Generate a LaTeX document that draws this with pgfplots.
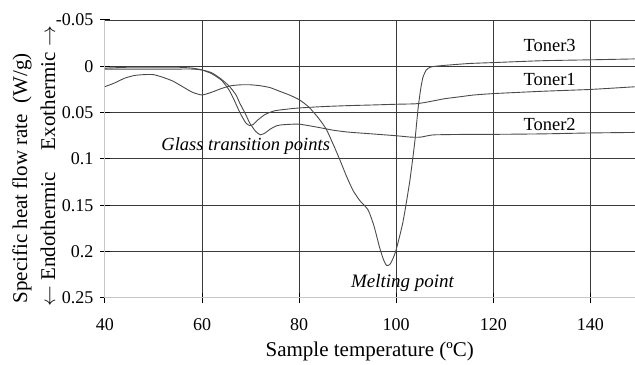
\documentclass[border=0pt]{standalone}
\usepackage{fontspec}
\setmainfont{Liberation Serif}
\usepackage{pgfplots}
\pgfplotsset{compat=1.18}
\definecolor{gridc}{HTML}{3A3A3A}
\definecolor{curvec}{HTML}{4A4A4A}
\begin{document}
\begin{tikzpicture}
\begin{axis}[
  scale only axis, width=530pt, height=278pt,
  xmin=40, xmax=149.1, ymin=-0.05, ymax=0.25, y dir=reverse,
  separate axis lines,
  axis x line=box, axis y line=left,
  axis line style={color=gray!45, line width=0.9pt, -},
  xtick pos=left, ytick pos=left,
  xtick={40,60,80,100,120,140},
  xticklabels={40,60,80,100,120,140},
  ytick={0,0.05,0.1,0.15,0.2,0.25},
  yticklabels={0,0.05,0.1,0.15,0.2,0.25},
  extra y ticks={-0.05}, extra y tick labels={-0.05},
  extra y tick style={grid style={color=gray!45, line width=0.9pt}},
  grid=major, major grid style={gridc, line width=0.9pt},
  tick align=center, major tick length=10pt,
  major tick style={black, line width=1pt},
  ticklabel style={font=\fontsize{18}{20}\selectfont},
  xticklabel style={yshift=-12pt},
  yticklabel style={xshift=-3pt},
  clip=true,
]
\addplot[curvec, line width=0.9pt, smooth, tension=0.35] coordinates {
(40,0.022)(42,0.018)(44,0.013)(46,0.010)(48,0.009)(50,0.009)(52,0.012)(54,0.016)
(56,0.022)(58,0.028)(60,0.031)(62,0.028)(64,0.024)(66,0.021)(68,0.020)(70,0.020)
(72,0.021)(74,0.023)(76,0.027)(78,0.031)(80,0.036)(82,0.044)(84,0.056)(85.6,0.068)
(87,0.084)(88.4,0.101)(89.7,0.118)(91.1,0.134)(92.5,0.145)(94.2,0.155)(95.4,0.172)
(96.6,0.196)(97.4,0.209)(98,0.215)(98.7,0.214)(99.3,0.208)(100,0.198)(101.4,0.168)
(102.8,0.124)(103.8,0.083)(104.5,0.046)(105,0.026)(105.5,0.012)(106.2,0.004)
(107,0.001)(108,0.0)(110,-0.001)(115,-0.003)(120,-0.004)(130,-0.006)(140,-0.007)(149.5,-0.008)
};
\addplot[curvec, line width=0.9pt, smooth, tension=0.35] coordinates {
(40,0.002)(45,0.001)(50,0.001)(55,0.001)(58,0.002)(60,0.004)(62,0.008)(64,0.015)
(65.5,0.025)(66.5,0.035)(67.8,0.050)(69,0.061)(69.8,0.064)(70.5,0.063)(71.5,0.058)
(73,0.052)(75,0.048)(78,0.046)(80,0.045)(85,0.0435)(90,0.0425)(95,0.0418)(100,0.041)
(104,0.0405)(106,0.039)(108,0.037)(110,0.035)(113,0.033)(116,0.031)(120,0.0295)
(130,0.027)(140,0.025)(149.5,0.022)
};
\addplot[curvec, line width=0.9pt, smooth, tension=0.35] coordinates {
(40,0.003)(45,0.003)(50,0.003)(55,0.003)(58,0.003)(60,0.004)(62,0.007)(64,0.014)
(65.7,0.022)(67,0.031)(67.8,0.040)(69,0.052)(69.8,0.061)(71,0.070)(72,0.074)(73,0.072)
(74,0.068)(75.5,0.064)(77,0.063)(80,0.0625)(84,0.066)(87,0.069)(90,0.071)(95,0.073)
(100,0.075)(103,0.0765)(105,0.0765)(106.5,0.075)(108,0.074)(115,0.0735)(120,0.0735)
(130,0.073)(140,0.072)(149.5,0.0714)
};
\node[font=\fontsize{18.5}{20}\selectfont] at (axis cs:131.6,-0.023) {Toner3};
\node[font=\fontsize{18.5}{20}\selectfont] at (axis cs:131.6,0.0139) {Toner1};
\node[font=\fontsize{18.5}{20}\selectfont] at (axis cs:131.6,0.0626) {Toner2};
\node[font=\fontsize{18.5}{20}\selectfont\itshape] at (axis cs:69.0,0.0866) {Glass transition points};
\node[font=\fontsize{19}{20}\selectfont\itshape] at (axis cs:101.3,0.234) {Melting point};
\end{axis}
\node[font=\fontsize{21}{22}\selectfont, anchor=base] at ([yshift=-59pt]current axis.south) {Sample temperature (ºC)};
\node[font=\fontsize{21}{22}\selectfont, rotate=90] at ([xshift=-83pt,yshift=-19.5pt]current axis.west) {Specific heat flow rate\ \ (W/g)};
\node[font=\fontsize{21}{22}\selectfont, rotate=90] at ([xshift=-57pt,yshift=-7.4pt]current axis.west) {$\leftarrow$ Endothermic\hspace{22pt}Exothermic $\rightarrow$};
\path (current axis.south west) ++(-105pt,-65pt) rectangle ++(635pt,363pt);
\end{tikzpicture}
\end{document}
